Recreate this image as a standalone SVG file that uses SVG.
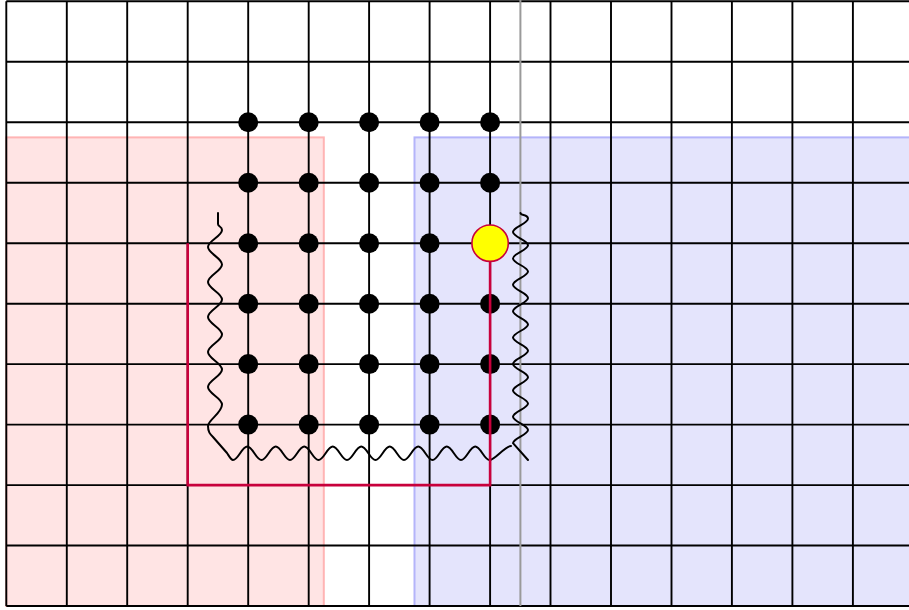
<svg xmlns="http://www.w3.org/2000/svg" width="909" height="610" viewBox="0 0 909 610">
<style>
.grid{fill:none;stroke:#000;stroke-width:1.9}
.dot{fill:#000}
.snake{fill:none;stroke:#000;stroke-width:2;stroke-linejoin:round;stroke-linecap:round}
.red{fill:none;stroke:#c8003c;stroke-width:2.6}
</style>
<rect width="909" height="610" fill="#fff"/>
<g id="regions">
<rect id="pink-region" x="6.3" y="137.4" width="317.5" height="468.6" fill="#ffe4e4" stroke="#ffb4b4" stroke-width="2"/>
<rect id="blue-region" x="414.5" y="137.4" width="510" height="468.6" fill="#e4e4fc" stroke="#b4b4fa" stroke-width="2"/>
</g>
<path id="grid" class="grid" d="M6.3 1.3V606M66.8 1.3V606M127.2 1.3V606M187.7 1.3V606M248.2 1.3V606M308.7 1.3V606M369.1 1.3V606M429.6 1.3V606M490.1 1.3V606M550.5 1.3V606M611 1.3V606M671.5 1.3V606M731.9 1.3V606M792.4 1.3V606M852.9 1.3V606M6.3 1.3H909M6.3 61.8H909M6.3 122.2H909M6.3 182.7H909M6.3 243.2H909M6.3 303.7H909M6.3 364.1H909M6.3 424.6H909M6.3 485.1H909M6.3 545.5H909M6.3 606H909"/>
<line id="gray-line" x1="520.4" y1="0" x2="520.4" y2="606" stroke="#9a9a9a" stroke-width="2"/>
<g id="dots">
<g id="n4-2"><circle class="dot" cx="248.2" cy="122.2" r="10"/></g>
<g id="n5-2"><circle class="dot" cx="308.7" cy="122.2" r="10"/></g>
<g id="n6-2"><circle class="dot" cx="369.1" cy="122.2" r="10"/></g>
<g id="n7-2"><circle class="dot" cx="429.6" cy="122.2" r="10"/></g>
<g id="n8-2"><circle class="dot" cx="490.1" cy="122.2" r="10"/></g>
<g id="n4-3"><circle class="dot" cx="248.2" cy="182.7" r="10"/></g>
<g id="n5-3"><circle class="dot" cx="308.7" cy="182.7" r="10"/></g>
<g id="n6-3"><circle class="dot" cx="369.1" cy="182.7" r="10"/></g>
<g id="n7-3"><circle class="dot" cx="429.6" cy="182.7" r="10"/></g>
<g id="n8-3"><circle class="dot" cx="490.1" cy="182.7" r="10"/></g>
<g id="n4-4"><circle class="dot" cx="248.2" cy="243.2" r="10"/></g>
<g id="n5-4"><circle class="dot" cx="308.7" cy="243.2" r="10"/></g>
<g id="n6-4"><circle class="dot" cx="369.1" cy="243.2" r="10"/></g>
<g id="n7-4"><circle class="dot" cx="429.6" cy="243.2" r="10"/></g>
<g id="n4-5"><circle class="dot" cx="248.2" cy="303.7" r="10"/></g>
<g id="n5-5"><circle class="dot" cx="308.7" cy="303.7" r="10"/></g>
<g id="n6-5"><circle class="dot" cx="369.1" cy="303.7" r="10"/></g>
<g id="n7-5"><circle class="dot" cx="429.6" cy="303.7" r="10"/></g>
<g id="n8-5"><circle class="dot" cx="490.1" cy="303.7" r="10"/></g>
<g id="n4-6"><circle class="dot" cx="248.2" cy="364.1" r="10"/></g>
<g id="n5-6"><circle class="dot" cx="308.7" cy="364.1" r="10"/></g>
<g id="n6-6"><circle class="dot" cx="369.1" cy="364.1" r="10"/></g>
<g id="n7-6"><circle class="dot" cx="429.6" cy="364.1" r="10"/></g>
<g id="n8-6"><circle class="dot" cx="490.1" cy="364.1" r="10"/></g>
<g id="n4-7"><circle class="dot" cx="248.2" cy="424.6" r="10"/></g>
<g id="n5-7"><circle class="dot" cx="308.7" cy="424.6" r="10"/></g>
<g id="n6-7"><circle class="dot" cx="369.1" cy="424.6" r="10"/></g>
<g id="n7-7"><circle class="dot" cx="429.6" cy="424.6" r="10"/></g>
<g id="n8-7"><circle class="dot" cx="490.1" cy="424.6" r="10"/></g>
</g>
<g id="connectors">
<path id="snake-left-bottom" class="snake" d="M218 213L218 224C218 227 222 226 222 230C222 236.2 208 240.8 208 247S222 258.1 222 264.5S208 275.6 208 282S222 293.1 222 299.5S208 310.6 208 317S222 328.1 222 334.5S208 345.6 208 352S222 363.1 222 369.5S208 380.6 208 387S222 398.1 222 404.5C222 413 208 420 208 426C208 432 210 434 213 437L227 453C229 456 231 460 233 460C238.2 460 242.05 446.5 247.25 446.5S256.3 460 261.5 460S270.55 446.5 275.75 446.5S284.8 460 290 460S299.05 446.5 304.25 446.5S313.3 460 318.5 460S327.55 446.5 332.75 446.5S341.8 460 347 460S356.05 446.5 361.25 446.5S370.3 460 375.5 460S384.55 446.5 389.75 446.5S398.8 460 404 460S413.05 446.5 418.25 446.5S427.3 460 432.5 460S441.55 446.5 446.75 446.5S455.8 460 461 460S470.05 446.5 475.25 446.5S484.3 460 489.5 460S505 446 511 446"/>
<path id="snake-right" class="snake" d="M520.5 213C520.5 216 528 214 528 218.8C528 223.6 513 227.2 513 232S528 240.4 528 245.2S513 253.6 513 258.4S528 266.8 528 271.6S513 280 513 284.8S528 293.2 528 298S513 306.4 513 311.2S528 319.6 528 324.4S513 332.8 513 337.6S528 346 528 350.8S513 359.2 513 364S528 372.4 528 377.2S513 385.6 513 390.4S528 398.8 528 403.6S513 412 513 416.8S528 425.2 528 430S513 438.4 513 443.2L528 460"/>
<path id="red-path" class="red" d="M187.7 243.2V485.1H490.1V261.5"/>
</g>
<g id="marker-node">
<circle cx="490.1" cy="243.2" r="18.2" fill="#ffff00" stroke="#c8003c" stroke-width="1.6"/>
</g>
</svg>
